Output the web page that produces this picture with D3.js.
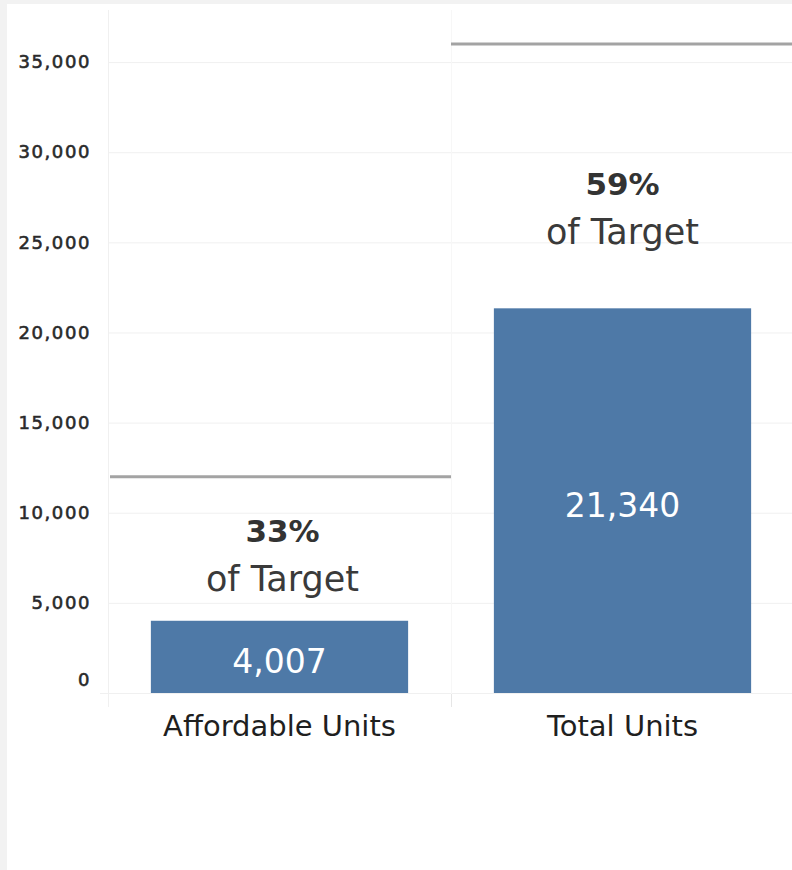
<!DOCTYPE html>
<html>
<head>
<meta charset="utf-8">
<script src="https://cdn.jsdelivr.net/npm/d3@7"></script>
<style>
  html, body { margin: 0; padding: 0; background: #f2f2f2; }
  svg { display: block; }
  text { font-family: "DejaVu Sans", sans-serif; }
</style>
</head>
<body>
<svg id="chart" width="792" height="870"></svg>
<script>
// ---- data ----
const categories = ["Affordable Units", "Total Units"];
const actualValues = [4007, 21340];
const targetValues = [12000, 36000];
const pctLabels = ["33%", "59%"];
const pctSubLabel = "of Target";
const yTickValues = [0, 5000, 10000, 15000, 20000, 25000, 30000, 35000];

// ---- layout ----
const W = 792, H = 870;
const plot = { left: 108, right: 794, top: 8, bottom: 693 };
const annotationBaseline = [591, 244]; // "of Target" baseline per column

const svg = d3.select("#chart");

// white panel
svg.append("rect").attr("x", 7).attr("y", 4).attr("width", W - 7).attr("height", H - 4).attr("fill", "#ffffff");

const x = d3.scaleBand().domain(categories).range([plot.left, plot.right]).paddingInner(0).paddingOuter(0);
const y = d3.scaleLinear().domain([0, 38000]).range([plot.bottom, plot.top]);

// gridlines
svg.append("g").selectAll("line").data(yTickValues).join("line")
  .attr("x1", d => d === 0 ? 100 : plot.left).attr("x2", W)
  .attr("y1", d => y(d) + 0.5).attr("y2", d => y(d) + 0.5)
  .attr("stroke", "#f0f0f0").attr("stroke-width", 1);

// y axis line
svg.append("line").attr("x1", plot.left + 0.5).attr("x2", plot.left + 0.5)
  .attr("y1", 10).attr("y2", 707).attr("stroke", "#f0f0f0");

// column divider
svg.append("line").attr("x1", x(categories[1]) + 0.5).attr("x2", x(categories[1]) + 0.5)
  .attr("y1", 10).attr("y2", 707).attr("stroke", "#f7f7f7");

// y axis labels
const yAxis = d3.axisLeft(y).tickValues(yTickValues).tickSize(0).tickPadding(17)
  .tickFormat(d3.format(","));
const gy = svg.append("g").attr("transform", `translate(${plot.left},0)`).call(yAxis);
gy.select(".domain").remove();
gy.selectAll("text")
  .attr("fill", "#2a2a2a")
  .attr("stroke", "#2a2a2a")
  .attr("stroke-width", 0.6)
  .style("font-size", "18px")
  .style("letter-spacing", "1.6px")
  .attr("dy", d => d === 0 ? "-0.4em" : "0.32em");

// bars
const barW = x.bandwidth() * 0.75;
svg.append("g").selectAll("rect").data(actualValues).join("rect")
  .attr("x", (d, i) => x(categories[i]) + (x.bandwidth() - barW) / 2)
  .attr("y", d => y(d))
  .attr("width", barW)
  .attr("height", d => y(0) - y(d))
  .attr("fill", "#4e79a7");

// target lines
svg.append("g").selectAll("line").data(targetValues).join("line")
  .attr("x1", (d, i) => x(categories[i]) + (i === 0 ? 2 : 0))
  .attr("x2", (d, i) => x(categories[i]) + x.bandwidth())
  .attr("y1", d => y(d)).attr("y2", d => y(d))
  .attr("stroke", "#a3a3a3").attr("stroke-width", 3);

// value labels inside bars
svg.append("g").selectAll("text").data(actualValues).join("text")
  .attr("x", (d, i) => x(categories[i]) + x.bandwidth() / 2)
  .attr("y", d => (y(d) + y(0)) / 2)
  .attr("dy", "0.5em")
  .attr("text-anchor", "middle")
  .attr("fill", "#ffffff")
  .style("font-size", "33px")
  .text(d => d3.format(",")(d));

// percent annotations
const ann = svg.append("g");
categories.forEach((c, i) => {
  const cx = x(c) + x.bandwidth() / 2 + (i === 0 ? 3 : 0);
  ann.append("text").attr("x", cx).attr("y", annotationBaseline[i] - 49)
    .attr("text-anchor", "middle").attr("fill", "#333")
    .style("font-size", "31px").style("font-weight", "bold")
    .text(pctLabels[i]);
  ann.append("text").attr("x", cx).attr("y", annotationBaseline[i])
    .attr("text-anchor", "middle").attr("fill", "#3a3a3a")
    .style("font-size", "35px")
    .text(pctSubLabel);
});

// x axis labels
svg.append("g").selectAll("text").data(categories).join("text")
  .attr("x", d => x(d) + x.bandwidth() / 2)
  .attr("y", 736)
  .attr("text-anchor", "middle")
  .attr("fill", "#1f1f1f")
  .style("font-size", "29px")
  .text(d => d);

// bottom tick at divider
svg.append("line").attr("x1", x(categories[1]) + 0.5).attr("x2", x(categories[1]) + 0.5)
  .attr("y1", 694).attr("y2", 707).attr("stroke", "#e6e6e6");
</script>
</body>
</html>
